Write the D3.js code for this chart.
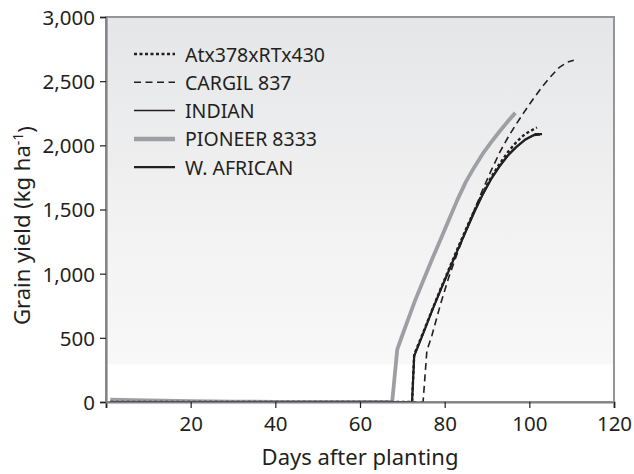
<!DOCTYPE html>
<html>
<head>
<meta charset="utf-8">
<script src="https://cdn.jsdelivr.net/npm/d3@7"></script>
<style>
  body { margin: 0; background: #fff; }
  text { font-family: "Noto Sans", "Open Sans", sans-serif; fill: #231f20; }
</style>
</head>
<body>
<div id="chart"></div>
<script>
var width = 634;
var height = 474;
var margin = {top: 17, right: 20, bottom: 72, left: 106};
var plotW = 614 - margin.left;
var plotH = 402 - margin.top;

// series: [day, grain yield kg/ha]
var atx = [[1,0],[72.3,0],[72.8,370],[75,548],[77,715],[79,878],[81,1035],[83,1192],[85,1345],
  [87,1492],[89,1630],[91,1752],[93,1858],[95,1950],[97,2028],[99,2088],[101,2125],[101.8,2139]];
var cargil = [[1,0],[74.9,0],[75.8,400],[77,520],[79,760],[81,975],[83,1160],[85,1335],[87,1495],
  [89,1655],[91,1805],[93,1945],[95,2065],[97,2170],[99,2270],[101,2365],[103,2455],[105,2535],
  [107,2605],[109,2648],[110.5,2663]];
var indian = [[1,0],[72.3,0],[72.8,355],[75,535],[77,705],[79,865],[81,1020],[83,1175],[85,1325],
  [87,1475],[89,1612],[91,1732],[93,1832],[95,1918],[97,1985],[99,2040],[101,2075],[102.5,2080]];
var pioneer = [[1,18],[10,12],[20,7],[30,3],[40,1],[67.6,0],[68.8,410],[70,520],[71,610],[72,700],
  [73,790],[75,950],[77,1110],[79,1265],[81,1420],[83,1575],[85,1715],[87,1830],[89,1935],
  [91,2025],[93,2110],[95,2190],[96.7,2253]];
var wafrican = [[1,0],[72.3,0],[72.8,360],[75,540],[77,710],[79,870],[81,1025],[83,1180],[85,1330],
  [87,1480],[89,1620],[91,1740],[93,1840],[95,1925],[97,1990],[99,2045],[101.4,2087],[103,2087]];

var seriesNames = ["Atx378xRTx430", "CARGIL 837", "INDIAN", "PIONEER 8333", "W. AFRICAN"];
var seriesData = [atx, cargil, indian, pioneer, wafrican];
var xTicks = [0, 20, 40, 60, 80, 100, 120];
var yTicks = [0, 500, 1000, 1500, 2000, 2500, 3000];

var styles = [
  {stroke: "#231f20", width: 2.4, dash: "3,2.5"},
  {stroke: "#231f20", width: 1.6, dash: "7,4.5"},
  {stroke: "#231f20", width: 1.2, dash: null},
  {stroke: "#9d9fa2", width: 3.8, dash: null},
  {stroke: "#231f20", width: 2.2, dash: null}
];

var svg = d3.select("#chart").append("svg")
  .attr("width", width)
  .attr("height", height);

var defs = svg.append("defs");
var grad = defs.append("linearGradient")
  .attr("id", "bg")
  .attr("x1", 0).attr("y1", 0).attr("x2", 0).attr("y2", 1);
grad.append("stop").attr("offset", "0%").attr("stop-color", "#e5e6e7");
grad.append("stop").attr("offset", "50%").attr("stop-color", "#f1f1f2");
grad.append("stop").attr("offset", "90%").attr("stop-color", "#f8f8f8");
grad.append("stop").attr("offset", "90.5%").attr("stop-color", "#ffffff");
grad.append("stop").attr("offset", "100%").attr("stop-color", "#ffffff");

defs.append("clipPath").attr("id", "clip")
  .append("rect").attr("width", plotW).attr("height", plotH);

var g = svg.append("g")
  .attr("transform", "translate(" + margin.left + "," + margin.top + ")");

var x = d3.scaleLinear().domain([0, 120]).range([0, plotW]);
var y = d3.scaleLinear().domain([0, 3000]).range([plotH, 0]);

g.append("rect")
  .attr("width", plotW)
  .attr("height", plotH)
  .attr("fill", "url(#bg)")
  .attr("stroke", "#939598")
  .attr("stroke-width", 2);

var line = d3.line()
  .x(d => x(d[0]))
  .y(d => y(d[1]));

var lines = g.append("g").attr("clip-path", "url(#clip)");
// draw gray first so black lines sit on top
[3, 1, 2, 0, 4].forEach(function(i) {
  lines.append("path")
    .datum(seriesData[i])
    .attr("d", line)
    .attr("fill", "none")
    .attr("stroke", styles[i].stroke)
    .attr("stroke-width", styles[i].width)
    .attr("stroke-linejoin", "round")
    .attr("stroke-dasharray", styles[i].dash);
});

// axes
var xAxis = g.append("g")
  .attr("transform", "translate(0," + plotH + ")")
  .call(d3.axisBottom(x).tickValues(xTicks).tickSize(6).tickPadding(8)
    .tickFormat(d => d === 0 ? "" : d));
var yAxis = g.append("g")
  .call(d3.axisLeft(y).tickValues(yTicks).tickSize(6).tickPadding(5)
    .tickFormat(d3.format(",")));

[xAxis, yAxis].forEach(function(a) {
  a.select(".domain").attr("stroke", "#808285").attr("stroke-width", 2.2);
  a.selectAll(".tick line").attr("stroke", "#231f20").attr("stroke-width", 1.2);
  a.selectAll(".tick text")
    .style("font-family", "'Noto Sans', sans-serif")
    .style("font-size", "20.5px")
    .attr("fill", "#231f20");
});
yAxis.selectAll(".tick text").attr("dy", "0.36em");

// legend
var legend = g.append("g").attr("transform", "translate(28,37)");
seriesNames.forEach(function(name, i) {
  var row = legend.append("g").attr("transform", "translate(0," + (i * 28.3) + ")");
  row.append("line")
    .attr("x1", 0).attr("x2", 41)
    .attr("y1", 0).attr("y2", 0)
    .attr("stroke", styles[i].stroke)
    .attr("stroke-width", i === 3 ? 4.5 : (i === 2 ? 1.5 : styles[i].width))
    .attr("stroke-dasharray", styles[i].dash);
  row.append("text")
    .attr("x", 51)
    .attr("y", 7.5)
    .style("font-size", "19.5px")
    .text(name);
});

// axis titles
svg.append("text")
  .attr("x", margin.left + plotW / 2)
  .attr("y", 465)
  .attr("text-anchor", "middle")
  .style("font-size", "22px")
  .text("Days after planting");

var yt = svg.append("text")
  .attr("transform", "translate(30," + (margin.top + plotH / 2 + 16) + ") rotate(-90)")
  .attr("text-anchor", "middle")
  .style("font-size", "22px");
yt.append("tspan").text("Grain yield (kg ha");
yt.append("tspan").attr("dy", "-0.5em").style("font-size", "14px").text("-1");
yt.append("tspan").attr("dy", "0.5em").text(")");
</script>
</body>
</html>
